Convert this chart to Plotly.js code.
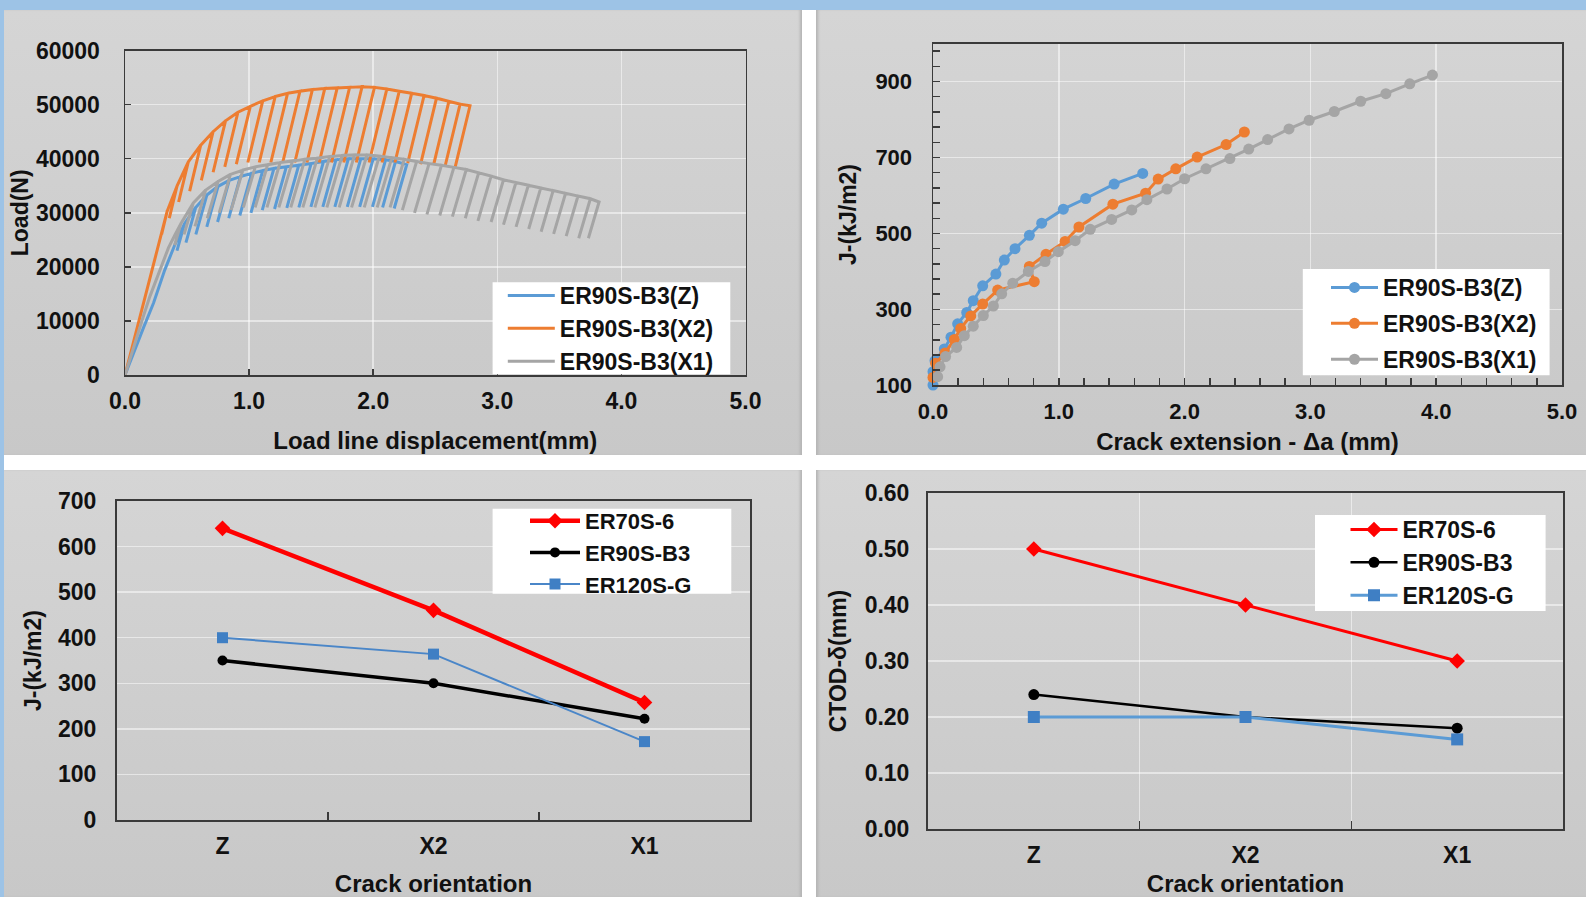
<!DOCTYPE html>
<html>
<head>
<meta charset="utf-8">
<script src="https://cdn.plot.ly/plotly-3.0.1.min.js"></script>
<style>
html,body{margin:0;padding:0;background:#ffffff;}
#wrap{position:relative;width:1586px;height:897px;overflow:hidden;background:#ffffff;}
.deco{position:absolute;}
.panel{position:absolute;background:linear-gradient(to bottom,#d5d5d5,#c8c8c8);}
#chart{position:absolute;left:0;top:0;width:1586px;height:897px;}
</style>
</head>
<body>
<div id="wrap">
  <div class="deco" style="left:0;top:0;width:1586px;height:10px;background:#9dc3e6;"></div>
  <div class="deco" style="left:0;top:0;width:4px;height:897px;background:#9dc3e6;"></div>
  <div class="panel" style="left:4px;top:10px;width:798px;height:445px;box-shadow:inset -3px 0 3px -1px #b4b4b4;"></div>
  <div class="panel" style="left:816px;top:10px;width:770px;height:445px;box-shadow:inset 3px 0 3px -1px #b4b4b4;"></div>
  <div class="panel" style="left:4px;top:470px;width:798px;height:427px;box-shadow:inset -3px 0 3px -1px #b4b4b4;"></div>
  <div class="panel" style="left:816px;top:470px;width:770px;height:427px;box-shadow:inset 3px 0 3px -1px #b4b4b4;"></div>
  <div id="chart"></div>
</div>
<script>
// ---------- Panel (a): Load vs load line displacement (unloading-compliance cycles) ----------
// ER90S-B3(Z)
const zLoadX   = [0, 0.05, 0.10, 0.15, 0.23, 0.32, 0.40];
const zLoadY   = [0, 3000, 6000, 8800, 13300, 19400, 24000];
const zPeakX   = [0.48, 0.57, 0.66, 0.75, 0.84, 0.93, 1.02, 1.11, 1.20, 1.30, 1.40, 1.50, 1.60, 1.70, 1.80, 1.90, 2.00, 2.10, 2.18, 2.27];
const zPeakY   = [28000, 31000, 33300, 34900, 36000, 36700, 37300, 37800, 38200, 38500, 38800, 39100, 39500, 39800, 40000, 40000, 40000, 39800, 39500, 38900];
const zValleyX = [0.419, 0.491, 0.571, 0.659, 0.746, 0.836, 0.925, 1.015, 1.106, 1.205, 1.304, 1.401, 1.498, 1.594, 1.691, 1.791, 1.891, 1.994, 2.076, 2.169];
const zValleyY = [23000, 24500, 26000, 27400, 28300, 29000, 29500, 30000, 30500, 30700, 30900, 31000, 31100, 31100, 31100, 31100, 31100, 31100, 31000, 30800];
// ER90S-B3(X2)
const x2LoadX   = [0, 0.05, 0.10, 0.15, 0.215, 0.28];
const x2LoadY   = [0, 4500, 9000, 13500, 19400, 25000];
const x2PeakX   = [0.34, 0.42, 0.51, 0.61, 0.71, 0.81, 0.91, 1.01, 1.11, 1.21, 1.31, 1.41, 1.51, 1.61, 1.71, 1.81, 1.91, 2.01, 2.11, 2.21, 2.31, 2.41, 2.51, 2.61, 2.70, 2.78];
const x2PeakY   = [30300, 35000, 39400, 42500, 45000, 47000, 48600, 49700, 50700, 51500, 52100, 52500, 52800, 53000, 53100, 53200, 53300, 53200, 52900, 52500, 52100, 51700, 51200, 50600, 50100, 49800];
const x2ValleyX = [0.295, 0.357, 0.432, 0.521, 0.615, 0.71, 0.804, 0.897, 0.99, 1.082, 1.175, 1.271, 1.368, 1.466, 1.565, 1.664, 1.763, 1.864, 1.967, 2.071, 2.175, 2.278, 2.382, 2.487, 2.58, 2.661];
const x2ValleyY = [26000, 29000, 32000, 34000, 36000, 37500, 38500, 39000, 39300, 39300, 39300, 39300, 39300, 39300, 39300, 39300, 39300, 39300, 39300, 39300, 39300, 39200, 39000, 38900, 38700, 38500];
// ER90S-B3(X1)
const x1LoadX   = [0, 0.05, 0.10, 0.15, 0.20, 0.28, 0.35, 0.40];
const x1LoadY   = [0, 3800, 7500, 11000, 14500, 19400, 23500, 25800];
const x1PeakX   = [0.45, 0.55, 0.65, 0.75, 0.85, 0.95, 1.05, 1.15, 1.25, 1.35, 1.45, 1.55, 1.65, 1.75, 1.85, 1.95, 2.05, 2.15, 2.25, 2.35, 2.45, 2.55, 2.65, 2.75, 2.85, 2.95, 3.05, 3.15, 3.25, 3.35, 3.45, 3.55, 3.65, 3.75, 3.82];
const x1PeakY   = [28000, 31800, 34200, 35800, 37100, 37900, 38500, 38900, 39300, 39600, 39900, 40100, 40400, 40600, 40700, 40700, 40500, 40200, 39900, 39500, 39100, 38800, 38400, 38000, 37400, 36800, 36100, 35600, 35100, 34600, 34100, 33600, 33100, 32600, 32000];
const x1ValleyX = [0.40, 0.476, 0.564, 0.663, 0.759, 0.855, 0.954, 1.049, 1.144, 1.24, 1.336, 1.433, 1.53, 1.627, 1.726, 1.826, 1.928, 2.032, 2.136, 2.235, 2.333, 2.433, 2.536, 2.638, 2.742, 2.844, 2.95, 3.05, 3.151, 3.253, 3.353, 3.454, 3.555, 3.656, 3.734];
const x1ValleyY = [24000, 26000, 27500, 29000, 30000, 30500, 31000, 31000, 31000, 31000, 31000, 31000, 31000, 31000, 31000, 31000, 31000, 31000, 31000, 30500, 30000, 29700, 29500, 29300, 29000, 28500, 28300, 27800, 27400, 27000, 26500, 26100, 25700, 25300, 25300];

// ---------- Panel (b): J-R curves ----------
const zDa  = [0.0, 0.0, 0.016, 0.09, 0.143, 0.196, 0.268, 0.32, 0.395, 0.5, 0.567, 0.652, 0.766, 0.864, 1.036, 1.214, 1.44, 1.667];
const zJ   = [101, 136, 165, 196, 227, 262, 292, 323, 362, 393, 430, 460, 495, 527, 564, 592, 630, 658];
const x2Da = [0.0, 0.02, 0.095, 0.17, 0.22, 0.30, 0.395, 0.514, 0.805, 0.766, 0.898, 1.05, 1.16, 1.43, 1.69, 1.79, 1.93, 2.10, 2.33, 2.475];
const x2J  = [121, 158, 185, 221, 250, 283, 314, 351, 373, 413, 445, 479, 517, 577, 606, 643, 670, 701, 734, 767];
const x1Da = [0.037, 0.056, 0.10, 0.188, 0.249, 0.32, 0.40, 0.48, 0.546, 0.634, 0.758, 0.89, 0.996, 1.13, 1.25, 1.42, 1.58, 1.70, 1.86, 2.00, 2.17, 2.36, 2.51, 2.66, 2.83, 2.99, 3.19, 3.40, 3.60, 3.79, 3.97];
const x1J  = [123, 149, 176, 200, 231, 256, 284, 309, 341, 369, 400, 426, 452, 481, 511, 537, 562, 589, 617, 644, 670, 697, 722, 747, 775, 798, 821, 848, 868, 894, 917];

// ---------- Panels (c), (d): by crack orientation ----------
const orientations = ['Z', 'X2', 'X1'];
const jER70  = [640, 460, 258];
const jER90  = [350, 300, 222];
const jER120 = [400, 364, 172];
const ctodER70  = [0.50, 0.40, 0.30];
const ctodER90  = [0.24, 0.20, 0.18];
const ctodER120 = [0.20, 0.20, 0.16];

const seriesNames = ['ER90S-B3(Z)', 'ER90S-B3(X2)', 'ER90S-B3(X1)'];
const gradeNames = ['ER70S-6', 'ER90S-B3', 'ER120S-G'];

function cyclePath(loadX, loadY, peakX, peakY, valleyX, valleyY) {
  const x = loadX.slice(), y = loadY.slice();
  for (let i = 0; i < peakX.length; i++) {
    x.push(peakX[i], valleyX[i], peakX[i]);
    y.push(peakY[i], valleyY[i], peakY[i]);
  }
  return {x: x, y: y};
}

const FONT = 'Liberation Sans, Arial, Helvetica, sans-serif';
const TXT = '#111111';
const W = 1586, H = 897;
const fx = px => px / W;
const fy = py => 1 - py / H;
const GRID = 'rgba(255,255,255,0.5)';
const AXC = '#3a3a3a';

const cZ = '#5b9bd5', cX2 = '#ed7d31', cX1 = '#a5a5a5';

const pZ = cyclePath(zLoadX, zLoadY, zPeakX, zPeakY, zValleyX, zValleyY);
const pX2 = cyclePath(x2LoadX, x2LoadY, x2PeakX, x2PeakY, x2ValleyX, x2ValleyY);
const pX1 = cyclePath(x1LoadX, x1LoadY, x1PeakX, x1PeakY, x1ValleyX, x1ValleyY);

const traces = [
  {x: pZ.x, y: pZ.y, name: seriesNames[0], mode: 'lines', line: {color: cZ, width: 3}, xaxis: 'x', yaxis: 'y', legend: 'legend'},
  {x: pX2.x, y: pX2.y, name: seriesNames[1], mode: 'lines', line: {color: cX2, width: 3}, xaxis: 'x', yaxis: 'y', legend: 'legend'},
  {x: pX1.x, y: pX1.y, name: seriesNames[2], mode: 'lines', line: {color: cX1, width: 3}, xaxis: 'x', yaxis: 'y', legend: 'legend'},

  {x: zDa, y: zJ, name: seriesNames[0], mode: 'lines+markers', line: {color: cZ, width: 3}, marker: {color: cZ, size: 11}, xaxis: 'x2', yaxis: 'y2', legend: 'legend2', legendgroup: 'g1', cliponaxis: false},
  {x: x2Da, y: x2J, name: seriesNames[1], mode: 'lines+markers', line: {color: cX2, width: 3}, marker: {color: cX2, size: 11}, xaxis: 'x2', yaxis: 'y2', legend: 'legend2', legendgroup: 'g2', cliponaxis: false},
  {x: x1Da, y: x1J, name: seriesNames[2], mode: 'lines+markers', line: {color: cX1, width: 3}, marker: {color: cX1, size: 11}, xaxis: 'x2', yaxis: 'y2', legend: 'legend2', legendgroup: 'g3', cliponaxis: false},

  {x: orientations, y: jER70, name: gradeNames[0], mode: 'lines+markers', line: {color: '#ff0000', width: 4.5}, marker: {color: '#ff0000', size: 12, symbol: 'diamond'}, xaxis: 'x3', yaxis: 'y3', legend: 'legend3', cliponaxis: false},
  {x: orientations, y: jER90, name: gradeNames[1], mode: 'lines+markers', line: {color: '#000000', width: 3.5}, marker: {color: '#000000', size: 10, symbol: 'circle'}, xaxis: 'x3', yaxis: 'y3', legend: 'legend3', cliponaxis: false},
  {x: orientations, y: jER120, name: gradeNames[2], mode: 'lines+markers', line: {color: '#4a86c8', width: 2}, marker: {color: '#3f7fc4', size: 11, symbol: 'square'}, xaxis: 'x3', yaxis: 'y3', legend: 'legend3', cliponaxis: false},

  {x: orientations, y: ctodER70, name: gradeNames[0], mode: 'lines+markers', line: {color: '#ff0000', width: 3}, marker: {color: '#ff0000', size: 12, symbol: 'diamond'}, xaxis: 'x4', yaxis: 'y4', legend: 'legend4', cliponaxis: false},
  {x: orientations, y: ctodER90, name: gradeNames[1], mode: 'lines+markers', line: {color: '#000000', width: 2.5}, marker: {color: '#000000', size: 11, symbol: 'circle'}, xaxis: 'x4', yaxis: 'y4', legend: 'legend4', cliponaxis: false},
  {x: orientations, y: ctodER120, name: gradeNames[2], mode: 'lines+markers', line: {color: '#5b9bd5', width: 3}, marker: {color: '#3f7fc4', size: 12, symbol: 'square'}, xaxis: 'x4', yaxis: 'y4', legend: 'legend4', cliponaxis: false}
];

function tickFont(size) { return {family: FONT, size: size, color: TXT, weight: 700}; }
function titleObj(text, size, standoff) { return {text: text, font: {family: FONT, size: size, color: TXT, weight: 700}, standoff: standoff}; }

const baseAxis = {
  showline: true, mirror: true, linecolor: AXC, linewidth: 1.5,
  zeroline: false, showgrid: true, gridcolor: GRID, gridwidth: 1.5,
  ticks: 'inside', ticklen: 6, tickwidth: 1.5, tickcolor: AXC,
  fixedrange: true, automargin: false
};

function legendObj(xpx, ypx, size, extra) {
  return Object.assign({
    x: fx(xpx), y: fy(ypx), xanchor: 'left', yanchor: 'top', xref: 'paper', yref: 'paper',
    bgcolor: 'rgba(0,0,0,0)', borderwidth: 0, itemwidth: 47,
    font: {family: FONT, size: size, color: TXT, weight: 700},
    traceorder: 'normal', itemclick: false, itemdoubleclick: false
  }, extra || {});
}

function box(x0, y0, x1, y1) {
  return {type: 'rect', xref: 'paper', yref: 'paper', x0: fx(x0), x1: fx(x1), y0: fy(y1), y1: fy(y0),
          fillcolor: '#ffffff', line: {width: 0}, layer: 'above'};
}

const layout = {
  width: W, height: H,
  margin: {l: 0, r: 0, t: 0, b: 0, pad: 0},
  paper_bgcolor: 'rgba(0,0,0,0)', plot_bgcolor: 'rgba(0,0,0,0)',
  showlegend: true,
  font: {family: FONT, color: TXT},

  xaxis: Object.assign({}, baseAxis, {
    domain: [fx(125), fx(745.5)], anchor: 'y', range: [0, 5], tick0: 0, dtick: 1, tickformat: '.1f',
    tickfont: tickFont(23), ticklabelstandoff: 5,
    title: titleObj('Load line displacement(mm)', 24, 19)
  }),
  yaxis: Object.assign({}, baseAxis, {
    domain: [fy(375), fy(50.6)], anchor: 'x', range: [0, 60000], tick0: 0, dtick: 10000, tickformat: 'd',
    tickfont: tickFont(23), ticklabelstandoff: 19,
    title: titleObj('Load(N)', 23, 1)
  }),

  xaxis2: Object.assign({}, baseAxis, {
    domain: [fx(933), fx(1562)], anchor: 'y2', range: [0, 5], tick0: 0, dtick: 1, tickformat: '.1f',
    tickfont: tickFont(22), ticklabelstandoff: 6, ticklen: 7,
    minor: {dtick: 0.2, tick0: 0, ticks: 'inside', ticklen: 7, tickwidth: 1.5, tickcolor: AXC, showgrid: false},
    title: titleObj('Crack extension - Δa (mm)', 24, 10)
  }),
  yaxis2: Object.assign({}, baseAxis, {
    domain: [fy(385.4), fy(43.5)], anchor: 'x2', range: [100, 1000], tick0: 100, dtick: 200, tickformat: 'd',
    tickfont: tickFont(22), ticklabelstandoff: 15, ticklen: 7,
    minor: {dtick: 40, tick0: 100, ticks: 'inside', ticklen: 7, tickwidth: 1.5, tickcolor: AXC, showgrid: false},
    title: titleObj('J-(kJ/m2)', 23, 12)
  }),

  xaxis3: Object.assign({}, baseAxis, {
    domain: [fx(117), fx(750)], anchor: 'y3', type: 'category', range: [-0.5, 2.5],
    tickson: 'boundaries', ticklen: 8, showgrid: false, linewidth: 2,
    tickfont: tickFont(23), ticklabelstandoff: 4,
    title: titleObj('Crack orientation', 24, 24)
  }),
  yaxis3: Object.assign({}, baseAxis, {
    domain: [fy(820), fy(501)], anchor: 'x3', range: [0, 700], tick0: 0, dtick: 100, tickformat: 'd',
    ticks: '', linewidth: 2,
    tickfont: tickFont(23), ticklabelstandoff: 14,
    title: titleObj('J-(kJ/m2)', 23, 10)
  }),

  xaxis4: Object.assign({}, baseAxis, {
    domain: [fx(928), fx(1563)], anchor: 'y4', type: 'category', range: [-0.5, 2.5],
    tickson: 'boundaries', ticklen: 8, showgrid: true, linewidth: 2,
    tickfont: tickFont(23), ticklabelstandoff: 4,
    title: titleObj('Crack orientation', 24, 18)
  }),
  yaxis4: Object.assign({}, baseAxis, {
    domain: [fy(829), fy(493)], anchor: 'x4', range: [0, 0.6], tick0: 0, dtick: 0.1, tickformat: '.2f',
    ticks: '', linewidth: 2,
    tickfont: tickFont(23), ticklabelstandoff: 12,
    title: titleObj('CTOD-δ(mm)', 23, 12)
  }),

  shapes: [
    box(492.6, 282.2, 730.3, 374.3),
    box(1302.8, 269, 1549.6, 375.3),
    box(492.6, 508.8, 731.3, 593.8),
    box(1315, 514.9, 1545.6, 611)
  ],

  legend: legendObj(502.8, 274, 23),
  legend2: legendObj(1326, 266, 23, {traceorder: 'grouped', tracegroupgap: 3}),
  legend3: legendObj(525, 500, 22, {itemwidth: 50}),
  legend4: legendObj(1345.5, 508, 23)
};

Plotly.newPlot('chart', traces, layout, {displayModeBar: false, staticPlot: true});
</script>
</body>
</html>
